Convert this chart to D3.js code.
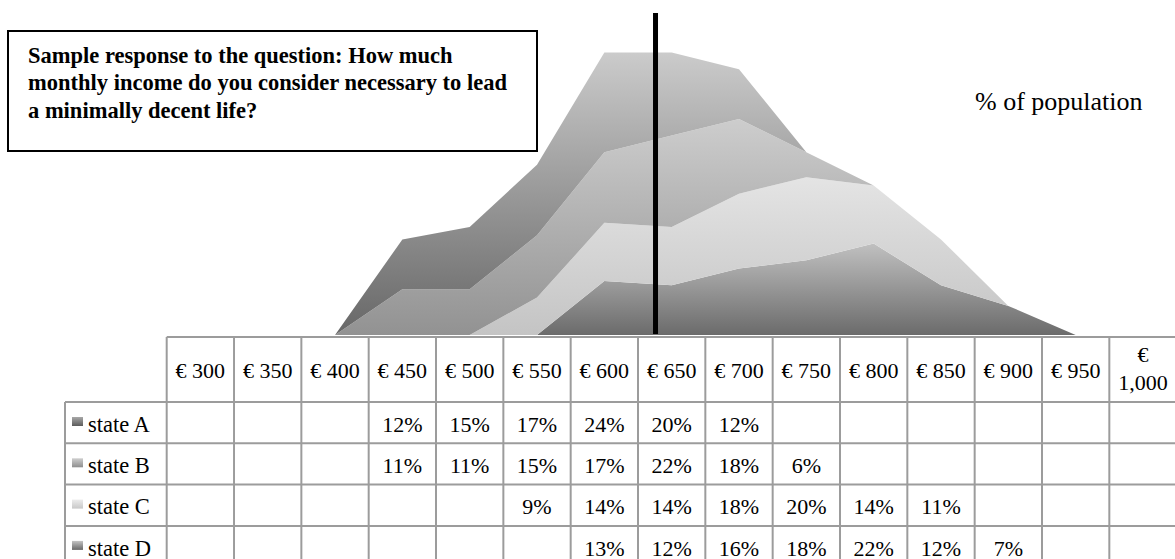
<!DOCTYPE html>
<html>
<head>
<meta charset="utf-8">
<script src="https://cdn.jsdelivr.net/npm/d3@7"></script>
<style>
  body { margin: 0; background: #fff; }
  svg { display: block; font-family: "Liberation Serif", "DejaVu Serif", serif; }
</style>
</head>
<body>
<svg id="chart" width="1175" height="559"></svg>
<script>
// income brackets (table columns / x categories)
const incomes = [300, 350, 400, 450, 500, 550, 600, 650, 700, 750, 800, 850, 900, 950, 1000];
const seriesNames = ["state A", "state B", "state C", "state D"];
// % of population per bracket, null = blank cell
const stateA = [null, null, null, 12, 15, 17, 24, 20, 12, null, null, null, null, null, null];
const stateB = [null, null, null, 11, 11, 15, 17, 22, 18, 6, null, null, null, null, null];
const stateC = [null, null, null, null, null, 9, 14, 14, 18, 20, 14, 11, null, null, null];
const stateD = [null, null, null, null, null, null, 13, 12, 16, 18, 22, 12, 7, null, null];
const markerIncome = 638;
const titleLines = [
  "Sample response to the question: How much",
  "monthly income do you consider necessary to lead",
  "a minimally decent life?"
];
const axisTitle = "% of population";

const W = 1175, H = 559;
const svg = d3.select("#chart").attr("viewBox", `0 0 ${W} ${H}`);
const defs = svg.append("defs");

const seriesValues = [stateA, stateB, stateC, stateD];
const rows = incomes.map((inc, i) => {
  const r = { income: inc };
  seriesNames.forEach((s, j) => r[s] = seriesValues[j][i] || 0);
  return r;
});

// gradients per series: [top, bottom]
const fills = {
  "state A": ["#cbcbcb", "#676767"],
  "state B": ["#cdcdcd", "#929292"],
  "state C": ["#e4e4e4", "#c4c4c4"],
  "state D": ["#c0c0c0", "#6b6b6b"]
};
const swatchFills = {
  "state A": ["#a8a8a8", "#5c5c5c"],
  "state B": ["#cfcfcf", "#8e8e8e"],
  "state C": ["#ececec", "#c8c8c8"],
  "state D": ["#c4c4c4", "#686868"]
};
function addGrad(id, c) {
  const g = defs.append("linearGradient").attr("id", id)
    .attr("x1", 0).attr("y1", 0).attr("x2", 0).attr("y2", 1);
  g.append("stop").attr("offset", "0%").attr("stop-color", c[0]);
  g.append("stop").attr("offset", "100%").attr("stop-color", c[1]);
}
seriesNames.forEach((s, i) => {
  addGrad("area" + i, fills[s]);
  addGrad("sw" + i, swatchFills[s]);
});

// layout
const tableLeft = 166.7, colW = 67.33;
const labelLeft = 65;
const headTop = 337, headBottom = 402, rowH = 41.3;

const x = d3.scaleBand().domain(incomes).range([tableLeft, tableLeft + colW * incomes.length]);
const cx = d => x(d) + x.bandwidth() / 2;
const xLin = d3.scaleLinear().domain(d3.extent(incomes)).range([cx(incomes[0]), cx(incomes[incomes.length - 1])]);
const y = d3.scaleLinear().domain([0, 78]).range([335, 11]);
const yRow = d3.scaleBand().domain(seriesNames).range([headBottom, headBottom + rowH * seriesNames.length]);

// stacked areas, state D at the bottom
const stack = d3.stack().keys([...seriesNames].reverse());
const layers = stack(rows);
const area = d3.area()
  .x(d => cx(d.data.income))
  .y0(d => y(d[0]))
  .y1(d => y(d[1]));

svg.append("g").selectAll("path")
  .data(layers)
  .join("path")
  .attr("d", area)
  .attr("fill", d => `url(#area${seriesNames.indexOf(d.key)})`);

// marker line
svg.append("line")
  .attr("x1", xLin(markerIncome)).attr("x2", xLin(markerIncome))
  .attr("y1", y(77.5)).attr("y2", y(0) - 1)
  .attr("stroke", "#000").attr("stroke-width", 5);

// title box
const tb = svg.append("g");
tb.append("rect").attr("x", 8).attr("y", 31).attr("width", 529).attr("height", 120)
  .attr("fill", "#fff").attr("stroke", "#000").attr("stroke-width", 2);
tb.selectAll("text").data(titleLines).join("text")
  .attr("x", 28).attr("y", (d, i) => 63 + i * 27.4)
  .attr("font-size", 22.5).attr("font-weight", "bold").attr("fill", "#000")
  .text(d => d);

svg.append("text").attr("x", 975).attr("y", 110)
  .attr("font-size", 26).attr("fill", "#000").text(axisTitle);

// data table
const grid = svg.append("g").attr("stroke", "#9c9c9c").attr("stroke-width", 2);
const tableBottom = yRow.range()[1];
grid.append("line").attr("x1", tableLeft).attr("x2", W).attr("y1", headTop).attr("y2", headTop);
[headBottom, ...seriesNames.map(s => yRow(s) + rowH)].forEach(yy => {
  grid.append("line").attr("x1", labelLeft).attr("x2", W).attr("y1", yy).attr("y2", yy);
});
grid.append("line").attr("x1", labelLeft).attr("x2", labelLeft).attr("y1", headBottom).attr("y2", tableBottom);
[...incomes.map(d => x(d)), x.range()[1]].forEach(xx => {
  grid.append("line").attr("x1", xx).attr("x2", xx).attr("y1", headTop).attr("y2", tableBottom);
});

// header labels
const fmt = d3.format(",");
const head = svg.append("g").attr("font-size", 22).attr("text-anchor", "middle").attr("fill", "#000");
incomes.forEach(inc => {
  const label = `€ ${fmt(inc)}`;
  const t = head.append("text").attr("x", cx(inc)).attr("y", (headTop + headBottom) / 2 + 8.5).text(label);
  if (t.node().getComputedTextLength() > x.bandwidth() - 4) {
    const parts = label.split(" ");
    t.text(null);
    t.append("tspan").attr("x", cx(inc)).attr("y", 362).text(parts[0]);
    t.append("tspan").attr("x", cx(inc)).attr("y", 390).text(parts[1]);
  }
});

// row labels with swatches
const rowG = svg.append("g").selectAll("g").data(seriesNames).join("g")
  .attr("transform", d => `translate(0,${yRow(d)})`);
rowG.append("rect").attr("x", 72).attr("y", 15).attr("width", 11).attr("height", 9)
  .attr("fill", (d, i) => `url(#sw${i})`);
rowG.append("text").attr("x", 88).attr("y", rowH / 2 + 9)
  .attr("font-size", 22.5).attr("fill", "#000").text(d => d);

// cell values
seriesNames.forEach((s, j) => {
  svg.append("g").attr("font-size", 22).attr("text-anchor", "middle").attr("fill", "#000")
    .selectAll("text")
    .data(incomes.map((inc, i) => ({ inc, v: seriesValues[j][i] })).filter(d => d.v != null))
    .join("text")
    .attr("x", d => cx(d.inc))
    .attr("y", yRow(s) + rowH / 2 + 9)
    .text(d => `${d.v}%`);
});
</script>
</body>
</html>
